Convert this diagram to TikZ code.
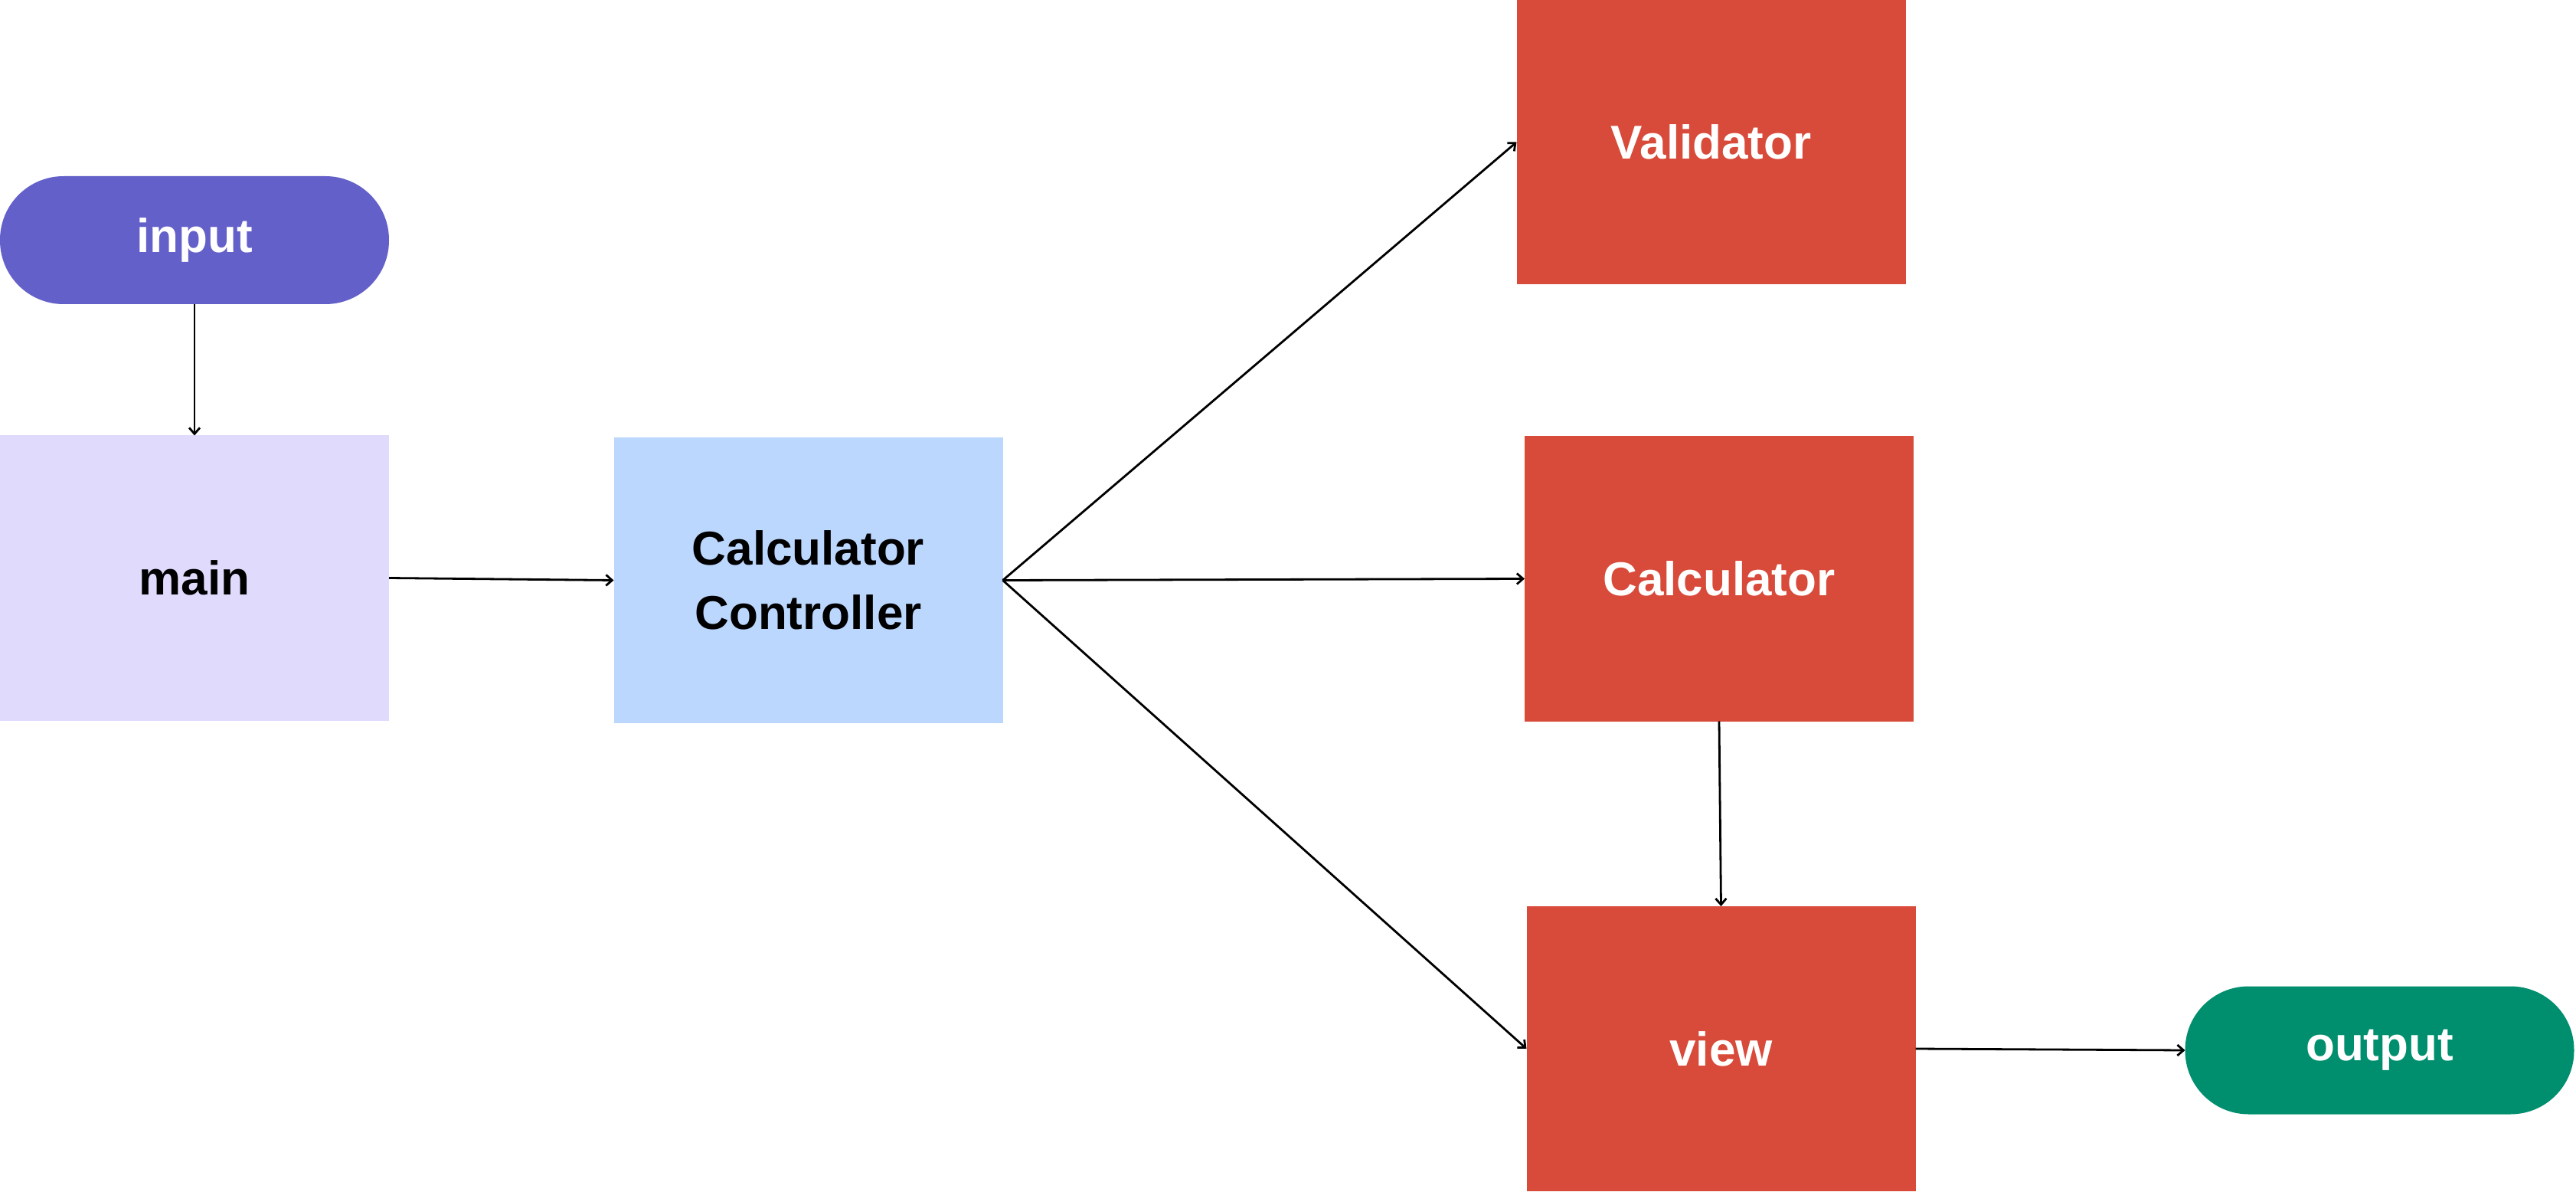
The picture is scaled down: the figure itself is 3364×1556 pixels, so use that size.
\documentclass[tikz,border=0pt]{standalone}
\usepackage{fontspec}
\setmainfont{Liberation Sans}
\usetikzlibrary{arrows.meta}
\definecolor{cInput}{HTML}{6360C9}
\definecolor{cMain}{HTML}{E0DBFD}
\definecolor{cCtrl}{HTML}{BBD7FE}
\definecolor{cRed}{HTML}{D84A3A}
\definecolor{cOut}{HTML}{008F6E}
\begin{document}
\begin{tikzpicture}[x=0.5pt,y=-0.5pt,
  box/.style={minimum width=254pt, minimum height=186pt, inner sep=0pt, outer sep=0pt,
    font=\bfseries\fontsize{31}{42}\selectfont, align=center},
  pill/.style={box, minimum height=83.5pt, rounded corners=41.5pt},
  conn/.style={line width=1.4pt, -{Straight Barb[length=4pt,width=7pt,line width=1.4pt]}}]
\useasboundingbox (0,0) rectangle (3364,1556);
\fill[white] (0,0) rectangle (3364,1556);
\node[pill, fill=cInput, text=white] (input) at (254,313.5) {input};
\node[box, fill=cMain, text=black] (main) at (254,754.5) {main};
\node[box, fill=cCtrl, text=black] (ctrl) at (1055.5,757.5) {Calculator\\Controller};
\node[box, fill=cRed, text=white] (valid) at (2234.5,185.5) {Validator};
\node[box, fill=cRed, text=white] (calc) at (2245,755.5) {Calculator};
\node[box, fill=cRed, text=white] (view) at (2247.5,1369) {view};
\node[pill, fill=cOut, text=white] (output) at (3107.5,1371) {output};
\draw[conn] (input.south) -- (main.north);
\draw[conn] (main.east) -- (ctrl.west);
\draw[conn] (ctrl.east) -- (valid.west);
\draw[conn] (ctrl.east) -- (calc.west);
\draw[conn] (ctrl.east) -- (view.west);
\draw[conn] (calc.south) -- (view.north);
\draw[conn] (view.east) -- (output.west);
\end{tikzpicture}
\end{document}
